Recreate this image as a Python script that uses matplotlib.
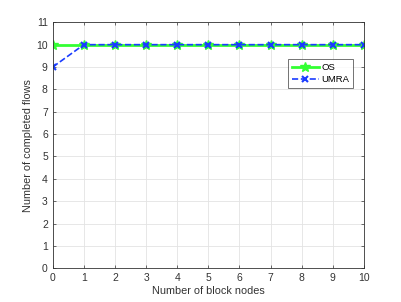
import matplotlib
matplotlib.use("Agg")
import matplotlib.pyplot as plt

x = [0, 1, 2, 3, 4, 5, 6, 7, 8, 9, 10]
os_flows = [10, 10, 10, 10, 10, 10, 10, 10, 10, 10, 10]
umra_flows = [9, 10, 10, 10, 10, 10, 10, 10, 10, 10, 10]

plt.rcParams['font.family'] = ['Liberation Sans', 'DejaVu Sans']

fig = plt.figure(figsize=(4.02, 3.02), dpi=100)
ax = fig.add_axes([52.7 / 402, 1 - 268.3 / 302, (364 - 52.7) / 402, (268.3 - 22.3) / 302])

ax.plot(x, os_flows, '-', color='#33ff33', linewidth=2, marker='*', markersize=7,
        markerfacecolor='#33ff33', markeredgecolor='#33ff33', label='OS')
ax.plot(x, umra_flows, '--', color='#1a3cff', linewidth=1.2, marker='x', markersize=4,
        markeredgewidth=1.5, label='UMRA')

ax.set_xlim(0, 10)
ax.set_ylim(0, 11)
ax.set_xticks(range(0, 11))
ax.set_yticks(range(0, 12))
ax.grid(True, color='#e3e3e3', linewidth=0.6)
ax.set_axisbelow(True)
ax.tick_params(labelsize=7.5, colors='#333333', direction='in', length=2.5, width=0.5,
               top=True, right=True)
for s in ax.spines.values():
    s.set_linewidth(0.6)
    s.set_color('#333333')

ax.set_xlabel('Number of block nodes', fontsize=7.8, color='#333333', labelpad=2)
ax.set_ylabel('Number of completed flows', fontsize=7.8, color='#333333', labelpad=2)

leg = ax.legend(loc='upper left', bbox_to_anchor=(0.757, 0.85), fontsize=6.8,
                frameon=True, fancybox=False, edgecolor='#333333', handlelength=2.8,
                borderpad=0.4, labelspacing=0.3, handletextpad=0.3, borderaxespad=0)
leg.get_frame().set_linewidth(0.6)

fig.savefig('out.png', dpi=100)
